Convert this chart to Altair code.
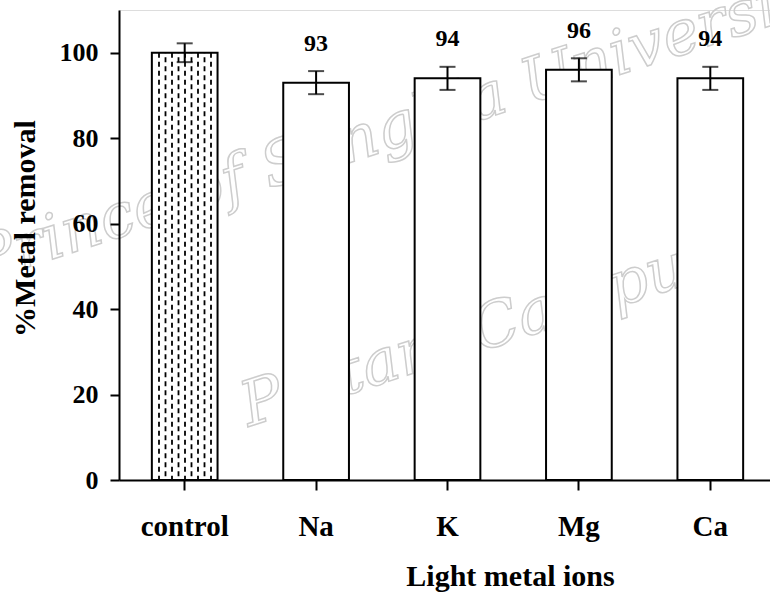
import altair as alt
import pandas as pd

# Metal removal (%) by light metal ion, with standard deviation
ions = ["control", "Na", "K", "Mg", "Ca"]
removal = [100, 93, 94, 96, 94]
sd = [2.2, 2.7, 2.7, 2.7, 2.7]
labels = ["", "93", "94", "96", "94"]

df = pd.DataFrame({"ion": ions, "removal": removal, "sd": sd, "label": labels})
df["lo"] = df["removal"] - df["sd"]
df["hi"] = df["removal"] + df["sd"]

# dashed stipple columns inside the control bar
cols = list(range(9))
stipple = pd.DataFrame({
    "ion": ["control"] * len(cols),
    "col": cols,
    "top": [removal[0]] * len(cols),
    "parity": [c % 2 for c in cols],
})

# faint institutional watermark
watermark_lines = ["Prince of Songkla University", "Pattani Campus"]

FONT = "Liberation Serif"

# full-step bands: axis ticks fall on the category boundaries,
# bars take the middle half of each band
x_scale = alt.Scale(domain=ions, range=[0, 657], paddingInner=0, paddingOuter=0)
y_scale = alt.Scale(domain=[0, 110], nice=False)

x_axis = alt.Axis(
    title="Light metal ions", labelAngle=0, zindex=1,
    labelFont=FONT, labelFontSize=29, labelFontWeight="bold", labelColor="black",
    labelPadding=22, tickSize=10, tickColor="black", tickWidth=2,
    domainColor="black", domainWidth=2,
    titleFont=FONT, titleFontSize=30, titleFontWeight="bold", titleColor="black",
    titleX=391, titleY=96, titleBaseline="middle", titleAnchor="middle",
)
y_axis = alt.Axis(
    title="%Metal removal", values=[0, 20, 40, 60, 80, 100], grid=False, zindex=1,
    labelFont=FONT, labelFontSize=26, labelFontWeight="bold", labelColor="black",
    labelPadding=12, tickSize=9, tickColor="black", tickWidth=2,
    domainColor="black", domainWidth=2,
    titleFont=FONT, titleFontSize=30, titleFontWeight="bold", titleColor="black",
    titleX=-94, titleY=218, titleBaseline="middle", titleAngle=270,
)

def watermark_layer(line, px, py):
    return alt.Chart(pd.DataFrame({"line": watermark_lines})).transform_filter(
        alt.datum.line == line
    ).mark_text(
        font="DejaVu Serif", fontStyle="italic", fontSize=62, angle=342,
        baseline="middle", fill="white", fillOpacity=0,
        stroke="#cdcdcd", strokeWidth=1.5,
    ).encode(text="line:N", x=alt.value(px), y=alt.value(py))

base = alt.Chart(df)

bars = base.mark_bar(
    fill="white", stroke="black", strokeWidth=2, width=alt.RelativeBandSize(0.5)
).encode(
    x=alt.X("ion:N", scale=x_scale, axis=x_axis, sort=ions),
    y=alt.Y("removal:Q", scale=y_scale, axis=y_axis),
)

def stipple_layer(parity, offset):
    return alt.Chart(stipple).transform_filter(
        alt.datum.parity == parity
    ).mark_rule(
        color="black", strokeWidth=1.8, strokeDash=[5, 4], strokeDashOffset=offset
    ).encode(
        x=alt.X("ion:N", scale=x_scale, sort=ions),
        xOffset=alt.XOffset("col:Q", scale=alt.Scale(domain=[0, 8], range=[40, 92])),
        y=alt.Y("top:Q", scale=y_scale),
        y2=alt.datum(0),
    )

err = base.mark_rule(color="black", strokeWidth=2).encode(
    x=alt.X("ion:N", scale=x_scale, sort=ions),
    y=alt.Y("lo:Q", scale=y_scale),
    y2="hi:Q",
)
cap_lo = base.mark_tick(color="black", size=16, thickness=2).encode(
    x=alt.X("ion:N", scale=x_scale, sort=ions),
    y=alt.Y("lo:Q", scale=y_scale),
)
cap_hi = base.mark_tick(color="black", size=16, thickness=2).encode(
    x=alt.X("ion:N", scale=x_scale, sort=ions),
    y=alt.Y("hi:Q", scale=y_scale),
)

text = base.transform_filter(alt.datum.label != "").mark_text(
    font=FONT, fontSize=24, fontWeight="bold", color="black", baseline="middle", dy=-39
).encode(
    x=alt.X("ion:N", scale=x_scale, sort=ions),
    y=alt.Y("removal:Q", scale=y_scale),
    text="label:N",
)

chart = alt.layer(
    watermark_layer(watermark_lines[0], 285, 115),
    watermark_layer(watermark_lines[1], 360, 322),
    bars, stipple_layer(0, 0), stipple_layer(1, 4.5), err, cap_lo, cap_hi, text
).resolve_scale(
    xOffset="independent"
).properties(
    width=651, height=470,
    autosize=alt.AutoSizeParams(type="none"),
    padding={"left": 119, "top": 10, "right": 0, "bottom": 112},
).configure_view(
    stroke="black", strokeWidth=2, clip=False
).configure(background="white")

chart.save("out.html", embed_options={"renderer": "svg", "actions": False})
